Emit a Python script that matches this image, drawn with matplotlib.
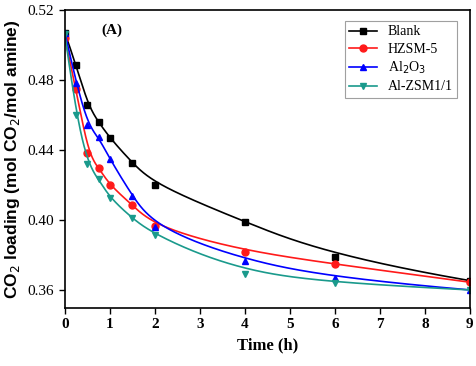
import numpy as np
import matplotlib
matplotlib.use("Agg")
import matplotlib.pyplot as plt

time_h = [0, 0.25, 0.5, 0.75, 1, 1.5, 2, 4, 6, 9]
blank = [0.507, 0.4885, 0.466, 0.456, 0.447, 0.4327, 0.4204, 0.399, 0.379, 0.3656]
hzsm5 = [0.504, 0.4747, 0.4384, 0.4299, 0.420, 0.4087, 0.3965, 0.382, 0.375, 0.3647]
al2o3 = [0.507, 0.4785, 0.4545, 0.4473, 0.435, 0.4138, 0.3962, 0.3766, 0.367, 0.3603]
alzsm = [0.506, 0.460, 0.4323, 0.4233, 0.4129, 0.4011, 0.3915, 0.3694, 0.3643, 0.3603]
labels = ["Blank", "HZSM-5", "Al$_2$O$_3$", "Al-ZSM1/1"]
xticks = [0, 1, 2, 3, 4, 5, 6, 7, 8, 9]
yticks = [0.36, 0.40, 0.44, 0.48, 0.52]


def bspline_curve(px, py, k=3, num=800):
    """Clamped uniform B-spline using the data points as control points."""
    P = np.column_stack([px, py]).astype(float)
    n = len(P)
    inner = np.linspace(0, 1, n - k + 1)
    knots = np.concatenate([np.zeros(k), inner, np.ones(k)])
    u = np.linspace(0, 1 - 1e-9, num)

    def basis(i, p, u):
        if p == 0:
            return ((knots[i] <= u) & (u < knots[i + 1])).astype(float)
        d1 = knots[i + p] - knots[i]
        d2 = knots[i + p + 1] - knots[i + 1]
        a = (u - knots[i]) / d1 * basis(i, p - 1, u) if d1 > 0 else 0
        b = (knots[i + p + 1] - u) / d2 * basis(i + 1, p - 1, u) if d2 > 0 else 0
        return a + b

    N = np.array([basis(i, k, u) for i in range(n)])
    C = N.T @ P
    C = np.vstack([C, P[-1]])
    return C[:, 0], C[:, 1]


fig = plt.figure(figsize=(4.77, 3.66), dpi=100)
ax = fig.add_axes([0.136, 0.1585, 0.849, 0.8145])
series = [blank, hzsm5, al2o3, alzsm]
colors = ["#000000", "#ff1a1a", "#0000ff", "#1a9a8c"]
markers = ["s", "o", "^", "v"]
for ys, c, mk, lb in zip(series, colors, markers, labels):
    cx, cy = bspline_curve(time_h, ys)
    ax.plot(cx, cy, color=c, lw=1.2)
    ax.plot(time_h, ys, ls="none", marker=mk, color=c, ms=5)
    ax.plot([], [], color=c, marker=mk, ms=5, lw=1.2, label=lb)

ax.set_xlim(0, 9)
ax.set_ylim(0.35, 0.52)
ax.set_xticks(xticks)
ax.set_yticks(yticks)
ax.set_xticklabels([str(v) for v in xticks], fontfamily="Liberation Serif",
                   fontsize=11, fontweight="bold")
ax.set_yticklabels([f"{v:.2f}" for v in yticks], fontfamily="Liberation Serif",
                   fontsize=11)
ax.tick_params(direction="out", length=4, width=1)
for s in ax.spines.values():
    s.set_linewidth(1.2)
ax.set_xlabel("Time (h)", fontfamily="Liberation Serif", fontsize=12,
              fontweight="bold")
ax.set_ylabel("CO$_2$ loading (mol CO$_2$/mol amine)", fontfamily="Liberation Sans",
              fontsize=12.5, fontweight="bold")
ax.text(0.09, 0.92, "(A)", transform=ax.transAxes, fontfamily="Liberation Serif",
        fontsize=11, fontweight="bold")
leg = ax.legend(loc="upper right", prop={"family": "Liberation Serif", "size": 10},
                frameon=True, fancybox=False, edgecolor="#888888",
                handlelength=2.0, borderpad=0.3, labelspacing=0.3,
                bbox_to_anchor=(0.985, 0.985))
leg.get_frame().set_linewidth(0.8)
fig.savefig("out.png", dpi=100)
